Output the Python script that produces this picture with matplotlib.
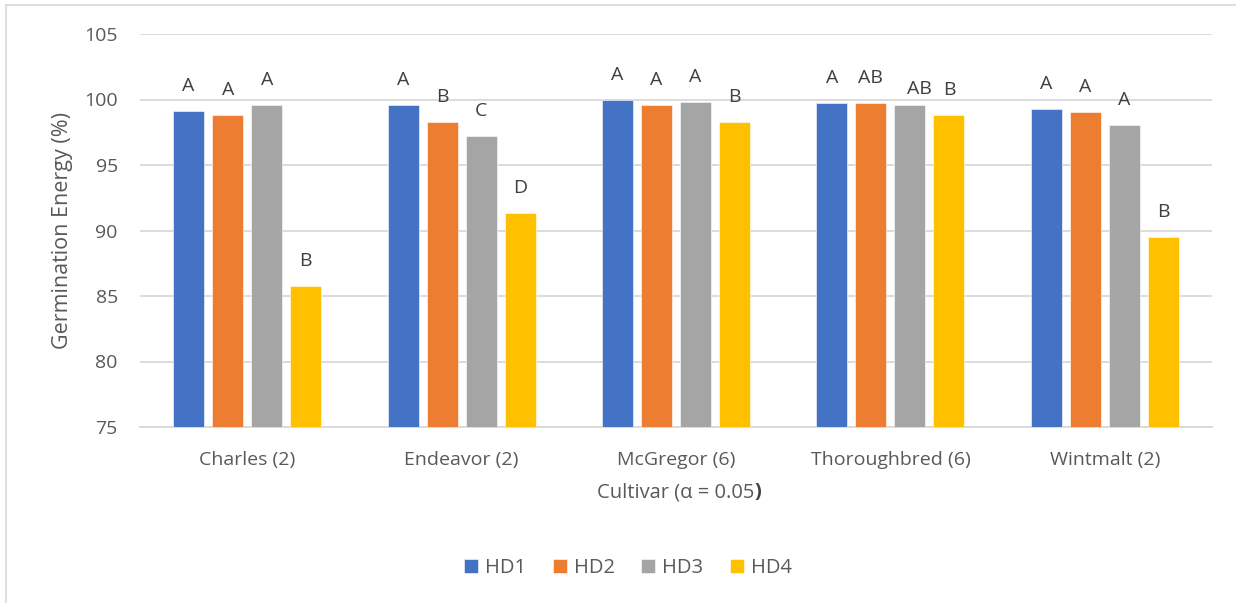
import numpy as np
import matplotlib.pyplot as plt
from matplotlib.lines import Line2D

# ------------------------------------------------------------
# Data: germination energy (%) by cultivar and harvest date
# ------------------------------------------------------------
cultivars = ["Charles (2)", "Endeavor (2)", "McGregor (6)", "Thoroughbred (6)", "Wintmalt (2)"]
series_names = ["HD1", "HD2", "HD3", "HD4"]

hd1 = [99.15, 99.55, 100.0, 99.75, 99.3]
hd2 = [98.8, 98.3, 99.55, 99.7, 99.05]
hd3 = [99.55, 97.25, 99.8, 99.55, 98.05]
hd4 = [85.8, 91.3, 98.3, 98.8, 89.5]

# Tukey letters (alpha = 0.05)
let1 = ["A", "A", "A", "A", "A"]
let2 = ["A", "B", "A", "AB", "A"]
let3 = ["A", "C", "A", "AB", "A"]
let4 = ["B", "D", "B", "B", "B"]

colors = ["#4472C4", "#ED7D31", "#A5A5A5", "#FFC000"]
text_col = "#595959"
grid_col = "#D9D9D9"

plt.rcParams['font.family'] = ['Open Sans', 'DejaVu Sans']

fig = plt.figure(figsize=(12.36, 6.03), dpi=100)
ax = fig.add_axes([140/1236, 1 - 427/603, (1212 - 140)/1236, (427 - 34)/603])

x = np.arange(len(cultivars))
width = 0.145
step = 0.182
values = [hd1, hd2, hd3, hd4]
letters = [let1, let2, let3, let4]

# hand nudges for labels that were moved in the original (points)
nudge = {(2, 3): (6.5, -6)}

for i, (vals, lets) in enumerate(zip(values, letters)):
    pos = x + (i - 1.5) * step
    ax.bar(pos, vals, width, color=colors[i], label=series_names[i],
           edgecolor="white", linewidth=0.4, zorder=3)
    for j, (p, v, t) in enumerate(zip(pos, vals, lets)):
        dx, dy = nudge.get((i, j), (0, 0))
        ax.annotate(t, (p, v), xytext=(dx, 18 + dy), textcoords="offset points",
                    ha="center", va="center", fontsize=14, color="#404040")

ax.set_ylim(75, 105)
ax.set_yticks(np.arange(75, 106, 5))
ax.set_xlim(-0.5, len(cultivars) - 0.5)
ax.set_xticks(x)
ax.set_xticklabels(cultivars)

ax.grid(axis="y", color=grid_col, linewidth=1.3, zorder=0)
ax.set_axisbelow(True)
for s in ["top", "right", "left"]:
    ax.spines[s].set_visible(False)
ax.spines["bottom"].set_color(grid_col)
ax.spines["bottom"].set_linewidth(1.3)
ax.tick_params(axis="both", length=0, labelsize=14, colors=text_col)
ax.tick_params(axis="y", pad=16)
ax.tick_params(axis="x", pad=17)

ax.set_ylabel("Germination Energy (%)", fontsize=15.5, color=text_col, labelpad=8)
xl = ax.set_xlabel("Cultivar (\u03b1 = 0.05", fontsize=14.5, color=text_col, labelpad=10)
ax.annotate(")", xy=(1, 0), xycoords=xl, ha="left", va="bottom",
            fontsize=14.5, color="#404040", fontweight="bold")

handles, labs = ax.get_legend_handles_labels()
leg = fig.legend(handles, labs, loc="center", bbox_to_anchor=(628/1236, 1 - 568/603),
                 ncol=4, frameon=False, fontsize=14.5, handlelength=0.7,
                 handleheight=0.7, handletextpad=0.35, columnspacing=1.3)
for t in leg.get_texts():
    t.set_color(text_col)

# chart frame (top and left edges visible in the original)
fig.add_artist(Line2D([6/1236, 1], [1 - 5/603, 1 - 5/603], color=grid_col, lw=1.2))
fig.add_artist(Line2D([6/1236, 6/1236], [0, 1 - 5/603], color=grid_col, lw=1.2))

fig.savefig("out.png", dpi=100)
